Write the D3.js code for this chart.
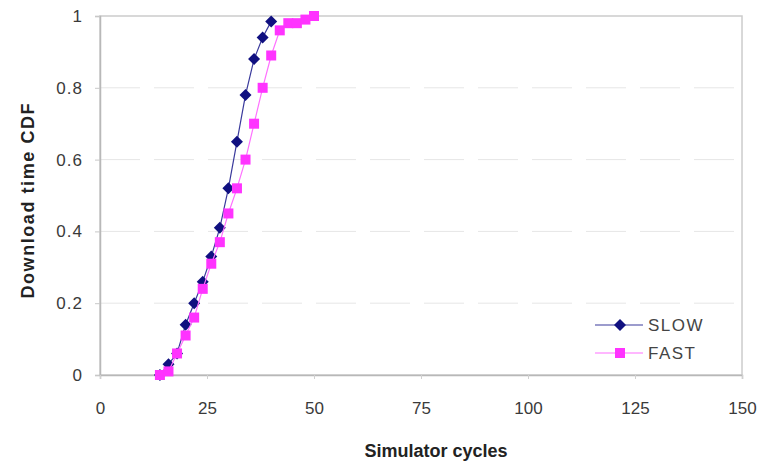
<!DOCTYPE html>
<html>
<head>
<meta charset="utf-8">
<script src="https://cdn.jsdelivr.net/npm/d3@7"></script>
<style>
  body { margin: 0; background: #fff; }
  svg text { font-family: "Liberation Sans", Arial, sans-serif; }
</style>
</head>
<body>
<svg id="chart" width="765" height="463"></svg>
<script>
// download time CDF
var slowCycles = [14, 16, 18, 20, 22, 24, 26, 28, 30, 32, 34, 36, 38, 40];
var slowCdf    = [0.0, 0.03, 0.06, 0.14, 0.20, 0.26, 0.33, 0.41, 0.52, 0.65, 0.78, 0.88, 0.94, 0.985];

var fastCycles = [14, 16, 18, 20, 22, 24, 26, 28, 30, 32, 34, 36, 38, 40, 42, 44, 46, 48, 50];
var fastCdf    = [0.0, 0.01, 0.06, 0.11, 0.16, 0.24, 0.31, 0.37, 0.45, 0.52, 0.60, 0.70, 0.80, 0.89, 0.96, 0.98, 0.98, 0.99, 1.0];

var xTicks = [0, 25, 50, 75, 100, 125, 150];
var yTicks = [0, 0.2, 0.4, 0.6, 0.8, 1];

const plotL = 100, plotR = 742, plotT = 16, plotB = 375;

const svg = d3.select('#chart');
const x = d3.scaleLinear().domain([0, 150]).range([plotL, plotR]);
const y = d3.scaleLinear().domain([0, 1]).range([plotB, plotT]);

// dashed gridlines
svg.append('g')
   .selectAll('line')
   .data(yTicks.filter(d => d > 0 && d < 1))
   .enter().append('line')
   .attr('x1', plotL).attr('x2', plotR)
   .attr('y1', d => y(d)).attr('y2', d => y(d))
   .attr('stroke', '#e6e6e6')
   .attr('stroke-dasharray', '40,14')
   .attr('stroke-width', 1);

// plot frame
svg.append('rect')
   .attr('x', plotL).attr('y', plotT)
   .attr('width', plotR - plotL).attr('height', plotB - plotT)
   .attr('fill', 'none')
   .attr('stroke', '#cccccc')
   .attr('stroke-width', 1.5);

const yAxis = svg.append('g')
   .attr('transform', `translate(${plotL},0)`)
   .call(d3.axisLeft(y).tickValues(yTicks).tickSize(5).tickPadding(12).tickFormat(d3.format('~g')));
yAxis.select('.domain').attr('stroke', '#b8b8b8').attr('stroke-width', 1.5);
yAxis.selectAll('.tick line').attr('stroke', '#c8c8c8');
yAxis.selectAll('text').attr('font-size', '17px').attr('letter-spacing', '1px').attr('fill', '#3a3a3a');

const xAxis = svg.append('g')
   .attr('transform', `translate(0,${plotB})`)
   .call(d3.axisBottom(x).tickValues(xTicks).tickSize(4).tickPadding(23).tickFormat(d3.format('d')));
xAxis.select('.domain').attr('stroke', '#b8b8b8').attr('stroke-width', 1.5);
xAxis.selectAll('.tick line').attr('stroke', '#d0d0d0');
xAxis.selectAll('text').attr('font-size', '17px').attr('fill', '#3a3a3a');

// axis titles
svg.append('text')
   .attr('x', 436).attr('y', 457)
   .attr('text-anchor', 'middle')
   .attr('font-size', '18px').attr('font-weight', 'bold').attr('fill', '#222')
   .text('Simulator cycles');

svg.append('text')
   .attr('transform', `translate(34,201) rotate(-90)`)
   .attr('text-anchor', 'middle')
   .attr('font-size', '18px').attr('font-weight', 'bold').attr('fill', '#222')
   .attr('textLength', 195).attr('lengthAdjust', 'spacing')
   .text('Download time CDF');

var series = [
  {name: 'SLOW', xs: slowCycles, ys: slowCdf, line: '#3a3a9c', mark: '#101080', shape: 'diamond'},
  {name: 'FAST', xs: fastCycles, ys: fastCdf, line: '#ff70ff', mark: '#ff33ff', shape: 'square'}
];

const line = d3.line().x(d => x(d[0])).y(d => y(d[1]));

function drawMarker(g, shape, color, cx, cy) {
  if (shape === 'diamond') {
    g.append('path')
     .attr('d', `M${cx},${cy - 6}L${cx + 6},${cy}L${cx},${cy + 6}L${cx - 6},${cy}Z`)
     .attr('fill', color);
  } else {
    g.append('rect')
     .attr('x', cx - 5).attr('y', cy - 5)
     .attr('width', 10).attr('height', 10)
     .attr('fill', color);
  }
}

// pink series sits on top of the navy one, like the original
series.forEach(function(s) {
  var pts = s.xs.map((v, i) => [v, s.ys[i]]);
  var g = svg.append('g');
  g.append('path')
   .attr('d', line(pts))
   .attr('fill', 'none')
   .attr('stroke', s.line)
   .attr('stroke-width', 1.2);
  pts.forEach(p => drawMarker(g, s.shape, s.mark, x(p[0]), y(p[1])));
});

// legend
var legend = svg.append('g');
series.forEach(function(s, i) {
  var ly = 325 + i * 28;
  legend.append('line')
        .attr('x1', 595).attr('x2', 643)
        .attr('y1', ly).attr('y2', ly)
        .attr('stroke', s.line).attr('stroke-width', 1.2);
  drawMarker(legend, s.shape, s.mark, 620, ly);
  legend.append('text')
        .attr('x', 648).attr('y', ly + 6)
        .attr('font-size', '17px').attr('letter-spacing', '1.5px').attr('fill', '#444')
        .text(s.name);
});
</script>
</body>
</html>
